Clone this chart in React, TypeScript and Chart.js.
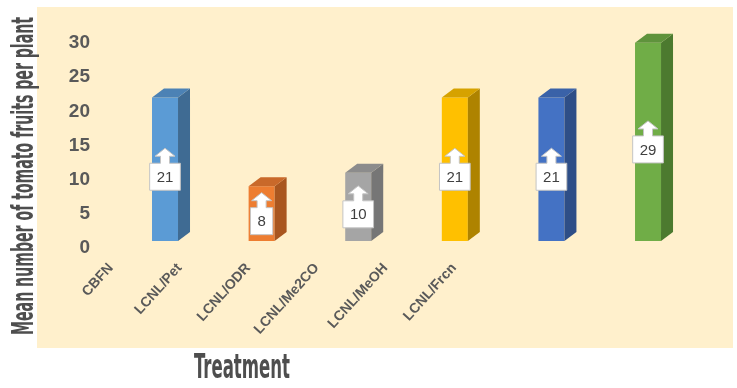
import React, { useEffect, useRef } from "react";
import { Chart, registerables } from "chart.js";

Chart.register(...registerables);

const categories = ["CBFN", "LCNL/Pet", "LCNL/ODR", "LCNL/Me2CO", "LCNL/MeOH", "LCNL/Frcn"];
const values = [21, 8, 10, 21, 21, 29];
const frontColors = ["#5B9BD5", "#ED7D31", "#A5A5A5", "#FFC000", "#4472C4", "#70AD47"];
const sideColors = ["#3F6B93", "#A9561F", "#767676", "#AE8300", "#2E4E87", "#4C7A2F"];
const topColors = ["#4C82B5", "#C9692A", "#8C8C8C", "#D6A200", "#3A62A8", "#5F933C"];
const yTitle = "Mean number of tomato fruits per plant";
const xTitle = "Treatment";

const DX = 12;
const DY = 9;

const backgroundPlugin = {
  id: "bgPanel",
  beforeDraw(chart: any) {
    const ctx = chart.ctx;
    ctx.save();
    ctx.fillStyle = "#FFFFFF";
    ctx.fillRect(0, 0, chart.width, chart.height);
    ctx.fillStyle = "#FFF0CC";
    ctx.fillRect(37, 7, 696, 341);
    ctx.restore();
  },
};

const bar3dPlugin = {
  id: "bar3d",
  afterDatasetsDraw(chart: any) {
    const ctx = chart.ctx;
    const meta = chart.getDatasetMeta(0);
    ctx.save();
    meta.data.forEach((el: any, i: number) => {
      const { x, y, base, width } = el.getProps(["x", "y", "base", "width"], true);
      const l = x - width / 2;
      const r = x + width / 2;
      ctx.fillStyle = sideColors[i];
      ctx.beginPath();
      ctx.moveTo(r, y);
      ctx.lineTo(r + DX, y - DY);
      ctx.lineTo(r + DX, base - DY);
      ctx.lineTo(r, base);
      ctx.closePath();
      ctx.fill();
      ctx.fillStyle = topColors[i];
      ctx.beginPath();
      ctx.moveTo(l, y);
      ctx.lineTo(l + DX, y - DY);
      ctx.lineTo(r + DX, y - DY);
      ctx.lineTo(r, y);
      ctx.closePath();
      ctx.fill();

      // callout label
      const label = String(values[i]);
      ctx.font = "15px 'Liberation Sans', Arial, sans-serif";
      const tw = ctx.measureText(label).width;
      const bw = tw + 14;
      const cy = (y + base) / 2;
      const top = cy - 21;
      const bt = top + 15;
      const bb = top + 42;
      const bl = x - bw / 2;
      const br = x + bw / 2;
      ctx.beginPath();
      ctx.moveTo(bl, bt);
      ctx.lineTo(x - 4.5, bt);
      ctx.lineTo(x - 4.5, top + 8);
      ctx.lineTo(x - 10, top + 8);
      ctx.lineTo(x, top);
      ctx.lineTo(x + 10, top + 8);
      ctx.lineTo(x + 4.5, top + 8);
      ctx.lineTo(x + 4.5, bt);
      ctx.lineTo(br, bt);
      ctx.lineTo(br, bb);
      ctx.lineTo(bl, bb);
      ctx.closePath();
      ctx.fillStyle = "#FFFFFF";
      ctx.fill();
      ctx.strokeStyle = "#C4C4C4";
      ctx.lineWidth = 1;
      ctx.stroke();
      ctx.fillStyle = "#404040";
      ctx.textAlign = "center";
      ctx.textBaseline = "middle";
      ctx.fillText(label, x, (bt + bb) / 2 + 1);
    });
    ctx.restore();
  },
};

const titlesPlugin = {
  id: "condensedTitles",
  afterDraw(chart: any) {
    const ctx = chart.ctx;
    ctx.save();
    ctx.fillStyle = "#4E4E4E";
    ctx.textAlign = "center";
    ctx.textBaseline = "alphabetic";
    ctx.font = "bold 30px 'DejaVu Sans Condensed', 'DejaVu Sans', sans-serif";
    let w = ctx.measureText(yTitle).width;
    ctx.save();
    ctx.translate(33, 176);
    ctx.rotate(-Math.PI / 2);
    ctx.scale(318 / w, 1);
    ctx.fillText(yTitle, 0, 0);
    ctx.restore();
    ctx.font = "bold 34px 'DejaVu Sans Condensed', 'DejaVu Sans', sans-serif";
    w = ctx.measureText(xTitle).width;
    ctx.save();
    ctx.translate(242, 378);
    ctx.scale(96 / w, 1);
    ctx.fillText(xTitle, 0, 0);
    ctx.restore();
    ctx.restore();
  },
};

export default function App() {
  const ref = useRef<HTMLCanvasElement | null>(null);
  useEffect(() => {
    if (!ref.current) return;
    const chart = new Chart(ref.current, {
      type: "bar",
      data: {
        datasets: [
          {
            data: values.map((v, i) => ({ x: i, y: v })),
            backgroundColor: frontColors,
            borderWidth: 0,
            barPercentage: 0.4,
            categoryPercentage: 1,
            clip: false as any,
          },
        ],
      },
      options: {
        responsive: false,
        animation: false,
        layout: { padding: { left: 0, right: 37, top: 36, bottom: 0 } },
        plugins: {
          legend: { display: false },
          tooltip: { enabled: false },
          title: { display: false },
        },
        scales: {
          x: {
            type: "linear",
            display: false,
            offset: false,
            min: -0.673,
            max: 5.538,
          },
          xl: {
            type: "linear",
            position: "bottom",
            offset: false,
            min: -0.16,
            max: 8.586,
            grid: { display: false },
            border: { display: false },
            afterBuildTicks: (s: any) => {
              s.ticks = categories.map((_, i) => ({ value: i }));
            },
            afterFit: (s: any) => {
              s.height = 147;
              s.paddingLeft = 0;
              s.paddingRight = 0;
            },
            ticks: {
              autoSkip: false,
              minRotation: 48,
              maxRotation: 48,
              padding: 11,
              color: "#595959",
              font: { family: "'Liberation Sans', Arial, sans-serif", size: 14, weight: "bold" },
              callback: (v: any) => categories[v] ?? "",
            },
          },
          y: {
            type: "linear",
            min: 0,
            max: 30,
            grid: { display: false },
            border: { display: false },
            afterFit: (s: any) => {
              s.width = 100;
              s.paddingTop = 0;
              s.paddingBottom = 0;
            },
            ticks: {
              stepSize: 5,
              padding: 2,
              labelOffset: 7,
              color: "#595959",
              font: { family: "'Liberation Sans', Arial, sans-serif", size: 19, weight: "bold" },
            },
          },
        },
      } as any,
      plugins: [backgroundPlugin, bar3dPlugin, titlesPlugin],
    });
    return () => chart.destroy();
  }, []);
  return (
    <div style={{ position: "fixed", left: 0, top: 0, width: 737, height: 388 }}>
      <canvas ref={ref} width={737} height={388} style={{ width: 737, height: 388 }} />
    </div>
  );
}
